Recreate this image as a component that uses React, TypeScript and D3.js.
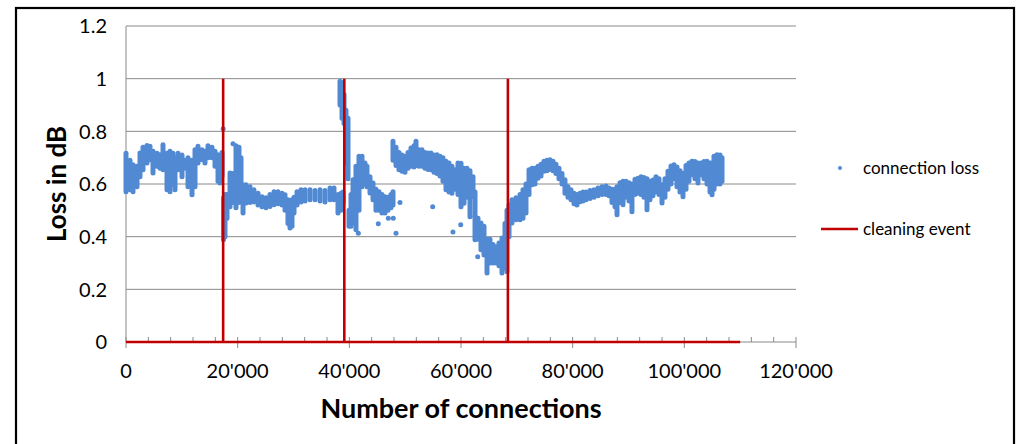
import React from "react";
import * as d3 from "d3";

// ---- data ----
// Dense scatter band of "connection loss": per column, x position and band top/bottom
const connX = [
  0, 716, 1254, 1970, 2507, 3045, 3761, 4298, 4836, 5552, 6089, 6627, 7343, 7880, 8418, 8776, 9313, 10030, 10567, 11104, 11821, 12358, 12895, 13612, 14149, 14686, 15403, 15940, 16477, 16835, 17194,
  17460, 17730, 18090, 18630, 19160, 19700, 20240, 20600, 20960, 21490, 22210, 22920, 23640, 24360, 25070, 25790, 26510, 27220, 27940, 28480, 29010, 29370, 29730, 30090, 30630, 31340, 32060, 32950, 33850, 34750, 35640, 36540, 37250, 37970, 38510, 38870,
  38330, 38690, 39050, 39400, 39760,
  39940, 40300, 40660, 41190, 41730, 42270, 42800, 43160, 43700, 44240, 44770, 45310, 45850, 46390, 46920, 47460, 47820,
  47820, 48360, 48890, 49430, 49970, 50510, 51040, 51580, 51940, 52480, 53010, 53550, 54090, 54620, 55160, 55700, 56240, 56770, 57310, 57850, 58380, 58920, 59460, 60000, 60540, 61070, 61610, 62150,
  62510, 63040, 63580, 64120, 64660, 65190, 65730, 66270, 66800, 67340, 67880, 68240,
  68600, 69130, 69850, 70570, 71100, 71640, 72180, 72720, 73250, 73790, 74330, 74860, 75400, 75940, 76480, 77010, 77550, 78090, 78620, 79160, 79700, 80240, 80770, 81310, 81850, 82390, 83100, 83820, 84540, 85250, 85970, 86510, 87040, 87580, 87940, 88480, 89010, 89550, 90090, 90620, 91160, 91700, 92240, 92770, 93310, 93850, 94380, 94920, 95460, 96000, 96530, 97070, 97610, 98140, 98680, 99220, 99760, 100300, 100830, 101370, 101910, 102450, 102980, 103520, 104060, 104600, 104960, 105310, 105850, 106390, 106750,
];
const lossHigh = [
  0.717, 0.69, 0.673, 0.667, 0.718, 0.74, 0.746, 0.743, 0.724, 0.717, 0.711, 0.749, 0.717, 0.724, 0.717, 0.7, 0.717, 0.71, 0.69, 0.7, 0.69, 0.73, 0.743, 0.73, 0.724, 0.745, 0.74, 0.724, 0.711, 0.7, 0.72,
  0.548, 0.56, 0.56, 0.642, 0.64, 0.745, 0.74, 0.7, 0.597, 0.597, 0.59, 0.578, 0.565, 0.552, 0.548, 0.56, 0.571, 0.571, 0.565, 0.559, 0.54, 0.53, 0.54, 0.55, 0.571, 0.578, 0.578, 0.578, 0.575, 0.578, 0.575, 0.585, 0.585, 0.56, 0.565, 0.57,
  0.99, 0.985, 0.94, 0.88, 0.85,
  0.5, 0.56, 0.616, 0.667, 0.705, 0.705, 0.68, 0.667, 0.628, 0.604, 0.58, 0.571, 0.56, 0.552, 0.55, 0.56, 0.571,
  0.762, 0.74, 0.72, 0.71, 0.705, 0.72, 0.737, 0.745, 0.762, 0.73, 0.73, 0.72, 0.718, 0.718, 0.71, 0.711, 0.705, 0.7, 0.686, 0.68, 0.667, 0.654, 0.68, 0.679, 0.66, 0.66, 0.65, 0.628,
  0.57, 0.47, 0.452, 0.44, 0.39, 0.39, 0.37, 0.362, 0.376, 0.395, 0.45, 0.5,
  0.52, 0.54, 0.548, 0.56, 0.578, 0.6, 0.654, 0.66, 0.66, 0.667, 0.675, 0.686, 0.69, 0.692, 0.686, 0.675, 0.66, 0.64, 0.616, 0.59, 0.578, 0.565, 0.56, 0.565, 0.57, 0.57, 0.575, 0.578, 0.585, 0.59, 0.592, 0.585, 0.58, 0.58, 0.59, 0.605, 0.61, 0.61, 0.605, 0.6, 0.618, 0.622, 0.628, 0.625, 0.62, 0.61, 0.615, 0.628, 0.62, 0.597, 0.62, 0.648, 0.668, 0.673, 0.665, 0.65, 0.641, 0.67, 0.68, 0.686, 0.685, 0.68, 0.68, 0.685, 0.686, 0.68, 0.68, 0.705, 0.711, 0.71, 0.7,
];
const lossLow = [
  0.571, 0.578, 0.571, 0.59, 0.628, 0.654, 0.68, 0.692, 0.642, 0.667, 0.66, 0.654, 0.578, 0.571, 0.597, 0.578, 0.654, 0.628, 0.66, 0.59, 0.559, 0.59, 0.68, 0.692, 0.68, 0.7, 0.7, 0.667, 0.61, 0.604, 0.63,
  0.388, 0.4, 0.47, 0.514, 0.53, 0.51, 0.53, 0.55, 0.49, 0.528, 0.53, 0.532, 0.52, 0.514, 0.51, 0.515, 0.521, 0.525, 0.52, 0.5, 0.45, 0.433, 0.44, 0.49, 0.52, 0.532, 0.535, 0.54, 0.54, 0.535, 0.532, 0.54, 0.54, 0.49, 0.5, 0.53,
  0.9, 0.85, 0.83, 0.68, 0.62,
  0.44, 0.44, 0.452, 0.426, 0.5, 0.59, 0.6, 0.59, 0.566, 0.54, 0.5, 0.5, 0.49, 0.49, 0.5, 0.51, 0.52,
  0.69, 0.67, 0.654, 0.648, 0.645, 0.66, 0.667, 0.665, 0.67, 0.667, 0.667, 0.66, 0.655, 0.654, 0.645, 0.64, 0.63, 0.61, 0.578, 0.57, 0.565, 0.58, 0.56, 0.514, 0.527, 0.55, 0.476, 0.552,
  0.388, 0.39, 0.35, 0.33, 0.262, 0.3, 0.3, 0.3, 0.29, 0.262, 0.28, 0.267,
  0.4, 0.452, 0.464, 0.464, 0.47, 0.49, 0.56, 0.597, 0.6, 0.622, 0.63, 0.648, 0.65, 0.655, 0.65, 0.64, 0.62, 0.6, 0.565, 0.55, 0.54, 0.525, 0.52, 0.533, 0.535, 0.54, 0.545, 0.55, 0.555, 0.56, 0.56, 0.555, 0.53, 0.514, 0.483, 0.53, 0.521, 0.55, 0.535, 0.495, 0.56, 0.565, 0.56, 0.55, 0.502, 0.54, 0.555, 0.57, 0.56, 0.528, 0.55, 0.58, 0.6, 0.62, 0.59, 0.57, 0.552, 0.58, 0.61, 0.635, 0.62, 0.604, 0.635, 0.62, 0.6, 0.57, 0.559, 0.58, 0.6, 0.6, 0.61,
];
// isolated points of the scatter
const outlierX = [17400, 19160, 41610, 45190, 46980, 47870, 48360, 49070, 54930, 58560, 59950, 62510, 62990];
const outlierY = [0.81, 0.753, 0.413, 0.449, 0.47, 0.47, 0.413, 0.53, 0.514, 0.418, 0.445, 0.476, 0.324];

// cleaning events (vertical lines up to 1) and the zero baseline end
const cleaningX = [17400, 39100, 68400];
const cleaningHeight = 1;
const cleaningEndX = 110000;

const xTicks = [0, 20000, 40000, 60000, 80000, 100000, 120000];
const yTicks = [0, 0.2, 0.4, 0.6, 0.8, 1, 1.2];
const seriesNames = ["connection loss", "cleaning event"];
const xTitle = "Number of connections";
const yTitle = "Loss in dB";

const BLUE = "#5289d3";
const RED = "#c00000";
const GRID = "#8a8a8a";
const FONT = "Lato, 'Open Sans', sans-serif";

export default function App() {
  const x = d3.scaleLinear().domain([0, 120000]).range([126, 796]);
  const y = d3.scaleLinear().domain([0, 1.2]).range([342, 26]);
  const fmtX = (v: number) => d3.format(",")(v).replace(/,/g, "'");
  const minorTicks = d3.range(0, 120001, 4000).filter((v) => v % 20000 !== 0);

  const cleaningPts: [number, number][] = [[0, 0]];
  cleaningX.forEach((c) => {
    cleaningPts.push([c, 0], [c, cleaningHeight], [c, 0]);
  });
  cleaningPts.push([cleaningEndX, 0]);
  const line = d3
    .line<[number, number]>()
    .x((d) => x(d[0]))
    .y((d) => y(d[1]));

  return (
    <svg
      width={1019}
      height={444}
      style={{ position: "absolute", left: 0, top: 0, background: "#fff" }}
      fontFamily={FONT}
    >
      <rect x={0} y={0} width={1019} height={444} fill="#fff" />
      <rect x={16} y={8} width={998} height={445} fill="none" stroke="#000" strokeWidth={2.2} />

      {/* grid */}
      {yTicks.map((t) => (
        <line key={"g" + t} x1={x(0)} x2={x(120000)} y1={y(t)} y2={y(t)} stroke={GRID} strokeWidth={1} />
      ))}
      {/* y axis */}
      <line x1={x(0)} x2={x(0)} y1={y(1.2)} y2={y(0)} stroke={GRID} strokeWidth={1} />
      {/* x ticks */}
      {minorTicks.map((t) => (
        <line key={"m" + t} x1={x(t)} x2={x(t)} y1={y(0) - 5} y2={y(0)} stroke={GRID} strokeWidth={1} />
      ))}
      {xTicks.map((t) => (
        <line key={"M" + t} x1={x(t)} x2={x(t)} y1={y(0) - 5} y2={y(0) + 6} stroke={GRID} strokeWidth={1} />
      ))}

      {/* tick labels */}
      {yTicks.map((t) => (
        <text key={"yl" + t} x={107} y={y(t)} dy="0.36em" textAnchor="end" fontSize={20} fill="#000">
          {String(t)}
        </text>
      ))}
      {xTicks.map((t) => (
        <text key={"xl" + t} x={x(t)} y={y(0) + 36} textAnchor="middle" fontSize={20} fill="#000">
          {fmtX(t)}
        </text>
      ))}

      {/* axis titles */}
      <text x={461} y={418} textAnchor="middle" fontSize={27} fontWeight="bold" fill="#000">
        {xTitle}
      </text>
      <text
        transform={`translate(57,${y(0.6)}) rotate(-90)`}
        textAnchor="middle"
        dy="0.36em"
        fontSize={26}
        fontWeight="bold"
        fill="#000"
      >
        {yTitle}
      </text>

      {/* scatter band */}
      <g stroke={BLUE} strokeWidth={5} strokeLinecap="round">
        {connX.map((cx, i) => (
          <line key={"c" + i} x1={x(cx)} x2={x(cx)} y1={y(lossHigh[i])} y2={y(lossLow[i])} />
        ))}
      </g>
      <g fill={BLUE}>
        {outlierX.map((ox, i) => (
          <circle key={"o" + i} cx={x(ox)} cy={y(outlierY[i])} r={2.5} />
        ))}
      </g>

      {/* cleaning events */}
      <path d={line(cleaningPts) || ""} fill="none" stroke={RED} strokeWidth={2.6} />

      {/* legend */}
      <circle cx={840} cy={168} r={2} fill={BLUE} />
      <text x={863} y={168} dy="0.36em" fontSize={17} fill="#000">
        {seriesNames[0]}
      </text>
      <line x1={821} x2={858} y1={229} y2={229} stroke={RED} strokeWidth={2.6} />
      <text x={863} y={229} dy="0.36em" fontSize={17} fill="#000">
        {seriesNames[1]}
      </text>
    </svg>
  );
}
